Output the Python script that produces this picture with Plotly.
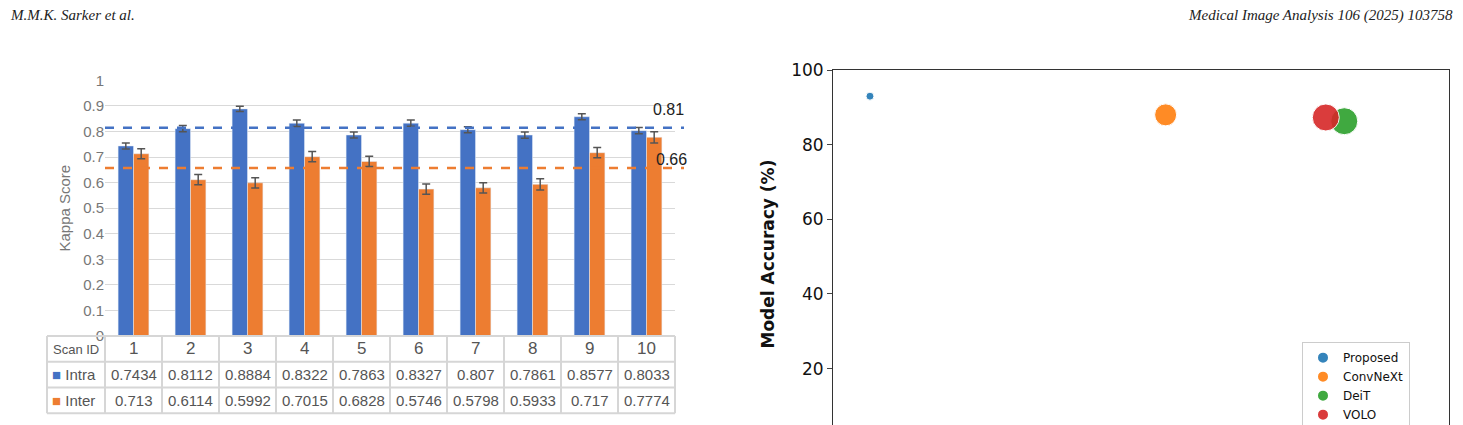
import plotly.graph_objects as go

# left chart: kappa scores per scan
scan_ids = ["1", "2", "3", "4", "5", "6", "7", "8", "9", "10"]
intra = [0.7434, 0.8112, 0.8884, 0.8322, 0.7863, 0.8327, 0.807, 0.7861, 0.8577, 0.8033]
inter = [0.713, 0.6114, 0.5992, 0.7015, 0.6828, 0.5746, 0.5798, 0.5933, 0.717, 0.7774]
intra_err = [0.012, 0.012, 0.010, 0.013, 0.012, 0.012, 0.012, 0.012, 0.012, 0.012]
inter_err = [0.020, 0.020, 0.020, 0.020, 0.020, 0.020, 0.020, 0.022, 0.020, 0.022]
intra_mean = 0.815
inter_mean = 0.657

# right chart: model accuracy
models = ["Proposed", "ConvNeXt", "DeiT", "VOLO"]
model_x = [6, 54, 83, 80]
model_acc = [93.0, 88.0, 86.3, 87.3]
model_size = [8, 22, 27, 27]
model_colors = ["#1f77b4", "#ff7f0e", "#2ca02c", "#d62728"]

BLUE = "#4472C4"
ORANGE = "#ED7D31"
GRAY = "#555"
W, H = 1463, 425
FIG_H = 438  # the photographed page comes out slightly squeezed vertically

def px_x(x):
    return x / W

def px_y(y):
    return 1 - y / H

fig = go.Figure()

fig.add_trace(go.Bar(x=scan_ids, y=intra, marker_color=BLUE, name="Intra",
                     error_y=dict(type="data", array=intra_err, color=GRAY, thickness=1.5, width=4),
                     showlegend=False, xaxis="x", yaxis="y"))
fig.add_trace(go.Bar(x=scan_ids, y=inter, marker_color=ORANGE, name="Inter",
                     error_y=dict(type="data", array=inter_err, color=GRAY, thickness=1.5, width=4),
                     showlegend=False, xaxis="x", yaxis="y"))

for i, m in enumerate(models):
    fig.add_trace(go.Scatter(x=[model_x[i]], y=[model_acc[i]], mode="markers", name=m,
                             marker=dict(size=model_size[i], color=model_colors[i], opacity=0.9,
                                         line=dict(color="white", width=1)),
                             xaxis="x2", yaxis="y2"))

def note(x, y, text, font, xanchor="center", yref="paper"):
    fig.add_annotation(x=x, y=y, xref="paper", yref=yref, text=text, showarrow=False,
                       xanchor=xanchor, yanchor="middle", font=font)

# data table under the bars, drawn with lines and text
tbl_left, first_right, col_w = 47, 105, 57.0
row_lines = [326, 351, 376, 401]
col_lines = [tbl_left, first_right] + [first_right + col_w * (k + 1) for k in range(len(scan_ids))]
for y in row_lines:
    fig.add_shape(type="line", xref="paper", yref="paper", x0=px_x(col_lines[0]), x1=px_x(col_lines[-1]),
                  y0=px_y(y), y1=px_y(y), line=dict(color="#d6d6d6", width=2))
for x in col_lines:
    fig.add_shape(type="line", xref="paper", yref="paper", x0=px_x(x), x1=px_x(x),
                  y0=px_y(row_lines[0]), y1=px_y(row_lines[-1]), line=dict(color="#d6d6d6", width=2))

tfont = dict(family="Liberation Sans Narrow, Liberation Sans", size=15, color=GRAY)
rows = [scan_ids, [str(v) for v in intra], [str(v) for v in inter]]
for r, vals in enumerate(rows):
    yc = (row_lines[r] + row_lines[r + 1]) / 2
    for k, v in enumerate(vals):
        xc = first_right + col_w * (k + 0.5)
        note(px_x(xc), px_y(yc), v, dict(tfont, size=17) if r == 0 else tfont)
note(px_x(76), px_y(339.5), "Scan ID", dict(tfont, size=13))
for r, (lab, col) in enumerate([("Intra", BLUE), ("Inter", ORANGE)]):
    yc = (row_lines[r + 1] + row_lines[r + 2]) / 2
    note(px_x(50), px_y(yc), f"<span style='color:{col}'>■</span> {lab}", tfont, xanchor="left")

# mean lines
for val, col in [(intra_mean, BLUE), (inter_mean, ORANGE)]:
    fig.add_shape(type="line", xref="paper", yref="y", x0=px_x(105), x1=px_x(684), y0=val, y1=val,
                  line=dict(color=col, width=2.5, dash="dash"))
note(px_x(686), 0.81 + 0.075, "0.81", dict(family="Liberation Sans", size=16, color="#222"), "right", "y")
note(px_x(689), 0.66 + 0.03, "0.66", dict(family="Liberation Sans", size=16, color="#222"), "right", "y")

# page header
note(px_x(8), px_y(15), "<i>M.M.K. Sarker et al.</i>",
     dict(family="Liberation Serif", size=15, color="#222"), "left")
note(px_x(1455), px_y(15), "<i>Medical Image Analysis 106 (2025) 103758</i>",
     dict(family="Liberation Serif", size=15, color="#222"), "right")

fig.update_layout(
    width=W, height=FIG_H, margin=dict(l=0, r=0, t=0, b=0, pad=0),
    paper_bgcolor="white", plot_bgcolor="white",
    barmode="group", bargap=0.46, bargroupgap=0.0,
    xaxis=dict(domain=[px_x(105), px_x(675)], showticklabels=False, showline=False, fixedrange=True,
               automargin=False),
    yaxis=dict(domain=[px_y(326), px_y(78)], range=[0, 1], dtick=0.1, gridcolor="#d9d9d9", automargin=False,
               tickfont=dict(family="Liberation Sans", size=15, color="#777"), zeroline=False,
               title=dict(text="Kappa Score", font=dict(family="Liberation Sans", size=15, color="#777"), standoff=8)),
    xaxis2=dict(domain=[px_x(833), px_x(1449)], range=[0, 100], anchor="y2", showticklabels=False,
                showline=True, linecolor="#333", mirror=True, showgrid=False, zeroline=False, automargin=False),
    yaxis2=dict(domain=[0, px_y(68)], range=[1.4, 100], dtick=20, anchor="x2", showgrid=False, automargin=False,
                showline=True, linecolor="#333", ticks="outside", ticklen=5, zeroline=False, mirror=True,
                tickfont=dict(family="DejaVu Sans", size=17, color="#111"),
                title=dict(text="<b>Model Accuracy (%)</b>", font=dict(family="DejaVu Sans", size=17, color="#111"),
                           standoff=12)),
    legend=dict(x=px_x(1302), y=px_y(332), xanchor="left", yanchor="top", bordercolor="#ccc", borderwidth=1,
                bgcolor="white", font=dict(family="DejaVu Sans", size=12, color="#111"), itemsizing="constant",
                tracegroupgap=0),
)

fig.write_html("out.html", config={"displayModeBar": False},
               post_script="document.body.style.margin='0';document.body.style.overflow='hidden';")
